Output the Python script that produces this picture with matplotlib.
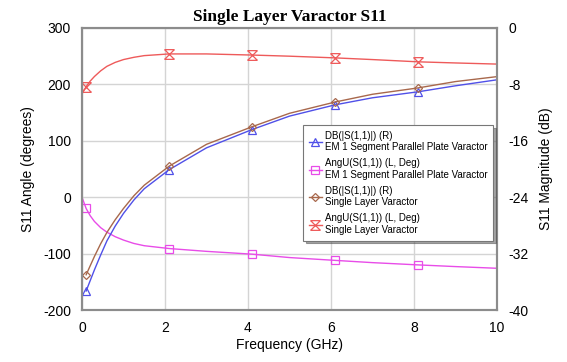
"""Single layer varactor S11: angle (left) and magnitude (right) vs frequency."""

import matplotlib
matplotlib.use("Agg")
import matplotlib.pyplot as plt
from matplotlib.path import Path

# angle traces (left axis, degrees)
freq_ang = [0, 0.1, 0.2, 0.3, 0.45, 0.6, 0.8, 1.0, 1.25, 1.5, 2.1, 3, 4.1, 5, 6.1, 7, 8.1, 9, 10]
ang_em = [0, -20, -33, -43, -54, -62, -70, -76, -82, -86, -91, -96, -101, -107, -112, -116, -120, -123, -126]
ang_slv = [183, 196, 206, 214, 224, 232, 239, 244, 248, 251, 254, 254, 252, 250, 247, 244, 240, 238, 236]
ang_marks = [1, 10, 12, 14, 16]

# magnitude traces (right axis, dB)
freq_db = [0.1, 0.2, 0.3, 0.45, 0.6, 0.8, 1.0, 1.25, 1.5, 2.1, 3, 4.1, 5, 6.1, 7, 8.1, 9, 10]
db_em = [-37.3, -35.8, -34.3, -32.2, -30.2, -28.1, -26.3, -24.4, -22.8, -20.1,
         -17.0, -14.4, -12.5, -10.9, -9.9, -9.05, -8.2, -7.35]
db_slv = [-35.0, -33.7, -32.4, -30.6, -29.0, -27.2, -25.6, -23.8, -22.3, -19.6,
          -16.5, -14.0, -12.1, -10.5, -9.4, -8.5, -7.6, -6.9]
db_marks = [0, 9, 11, 13, 15]

labels = [
    "DB(|S(1,1)|) (R)\nEM 1 Segment Parallel Plate Varactor",
    "AngU(S(1,1)) (L, Deg)\nEM 1 Segment Parallel Plate Varactor",
    "DB(|S(1,1)|) (R)\nSingle Layer Varactor",
    "AngU(S(1,1)) (L, Deg)\nSingle Layer Varactor",
]

BLUE = "#5050e8"
MAGENTA = "#e84ce8"
BROWN = "#a8684c"
RED = "#ee5a5a"
GRID = "#d4d4d4"
FRAME = "#8c8c8c"

# hourglass marker: two bars plus a cross
hourglass = Path(
    [(-1, 1), (1, 1), (-1, -1), (1, -1), (-1, 1), (1, -1), (1, 1), (-1, -1)],
    [Path.MOVETO, Path.LINETO] * 4,
)

plt.rcParams["font.family"] = ["Liberation Sans", "DejaVu Sans"]
plt.rcParams["axes.unicode_minus"] = False

fig = plt.figure(figsize=(5.67, 3.62), dpi=100)
ax = fig.add_axes([0.1446, 0.1436, 0.7319, 0.7791])
ax2 = ax.twinx()

common = dict(lw=1.0, ms=6, mfc="none", mew=0.9)
l_em_db, = ax2.plot(freq_db, db_em, color=BLUE, marker="^", markevery=db_marks, **common)
l_em_ang, = ax.plot(freq_ang, ang_em, color=MAGENTA, marker="s", markevery=ang_marks, **common)
l_slv_db, = ax2.plot(freq_db, db_slv, color=BROWN, marker="D", markevery=db_marks,
                     lw=1.0, ms=4.5, mfc="none", mew=0.9)
l_slv_ang, = ax.plot(freq_ang, ang_slv, color=RED, marker=hourglass, markevery=ang_marks,
                     lw=1.0, ms=7, mew=0.9)

ax.set_xlim(0, 10)
ax.set_ylim(-200, 300)
ax2.set_ylim(-40, 0)
ax.set_xticks(range(0, 11, 2))
ax.set_yticks(range(-200, 301, 100))
ax2.set_yticks(range(-40, 1, 8))

ax.grid(True, color=GRID, lw=1.0)
ax.set_axisbelow(True)
for a in (ax, ax2):
    for sp in a.spines.values():
        sp.set_color(FRAME)
        sp.set_linewidth(1.5)
    a.tick_params(length=0, labelsize=10, pad=8, colors="black")

ax.set_xlabel("Frequency (GHz)", fontsize=10, labelpad=2)
ax.set_ylabel("S11 Angle (degrees)", fontsize=10, labelpad=6)
ax2.set_ylabel("S11 Magnitude (dB)", fontsize=10, labelpad=8)
ax.set_title("Single Layer Varactor S11", fontsize=12.5, fontweight="bold",
             family=["Liberation Serif", "DejaVu Serif"], pad=5)

leg = ax2.legend([l_em_db, l_em_ang, l_slv_db, l_slv_ang], labels,
                 loc="upper left", bbox_to_anchor=(0.533, 0.656),
                 fontsize=7.0, frameon=True, fancybox=False, shadow=True,
                 handlelength=1.3, handletextpad=0.3, labelspacing=0.6,
                 borderpad=0.6, borderaxespad=0)
leg.get_frame().set_edgecolor("#777777")
leg.get_frame().set_linewidth(0.8)

fig.savefig("out.png", dpi=100)
